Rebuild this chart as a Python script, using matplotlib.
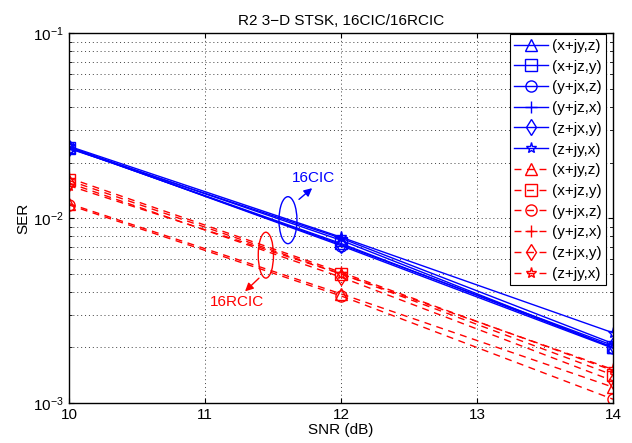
import numpy as np
import matplotlib
matplotlib.use("Agg")
import matplotlib.pyplot as plt
from matplotlib.patches import Ellipse

plt.rcParams['font.family'] = ['Liberation Sans', 'DejaVu Sans']
plt.rcParams['mathtext.fontset'] = 'custom'
plt.rcParams['mathtext.rm'] = 'Liberation Sans'

snr = [10, 12, 14]
labels = ["(x+jy,z)", "(x+jz,y)", "(y+jx,z)", "(y+jz,x)", "(z+jx,y)", "(z+jy,x)"]
markers = ["^", "s", "o", "+", "d", "*"]

# 16CIC
ser_cic = [
    [0.0242, 0.0076, 0.00200],
    [0.0240, 0.0073, 0.00200],
    [0.0243, 0.0071, 0.00198],
    [0.0238, 0.0078, 0.00210],
    [0.0241, 0.0072, 0.00205],
    [0.0245, 0.0079, 0.00240],
]
# 16RCIC
ser_rcic = [
    [0.0120, 0.0039, 0.00122],
    [0.0160, 0.0050, 0.00142],
    [0.0118, 0.0038, 0.00105],
    [0.0165, 0.0051, 0.00150],
    [0.0155, 0.0048, 0.00132],
    [0.0150, 0.0050, 0.00152],
]

fs = 11
fig = plt.figure(figsize=(6.32, 4.43), dpi=100)
ax = fig.add_axes([0.109, 0.09, 0.861, 0.835])

for lab, m, v in zip(labels, markers, ser_cic):
    ax.semilogy(snr, v, color='b', marker=m, lw=1.0, ms=8, mfc='none',
                mew=1.0, label=lab)
for lab, m, v in zip(labels, markers, ser_rcic):
    ax.semilogy(snr, v, color='r', marker=m, lw=1.0, ms=8, mfc='none',
                mew=1.0, ls=(0, (5, 4)), label=lab)

ax.set_xlim(10, 14)
ax.set_ylim(1e-3, 1e-1)
ax.set_xticks([10, 11, 12, 13, 14])
ax.grid(True, which='major', ls=(0, (1, 3)), color='0.25', lw=0.7)
ax.grid(True, which='minor', axis='y', ls=(0, (1, 3)), color='0.25', lw=0.7)
ax.tick_params(which='both', direction='in', top=True, right=True, labelsize=fs)
for s in ax.spines.values():
    s.set_linewidth(1.0)
ax.set_xlabel("SNR (dB)", fontsize=fs, labelpad=1)
ax.set_ylabel("SER", fontsize=fs, labelpad=2)
ax.set_title("R2 3\u2212D STSK, 16CIC/16RCIC", fontsize=fs, pad=6)

# annotations
ax.add_patch(Ellipse((0.4026, 0.4946), 0.033, 0.127, transform=ax.transAxes,
                     fill=False, ec='b', lw=1.0))
ax.annotate("", xy=(0.451, 0.586), xytext=(0.419, 0.546), xycoords='axes fraction',
            arrowprops=dict(arrowstyle='-|>', color='b', lw=1.0, mutation_scale=12))
ax.text(0.449, 0.609, "16CIC", color='b', fontsize=fs, ha='center', va='center',
        transform=ax.transAxes)

ax.add_patch(Ellipse((0.362, 0.40), 0.028, 0.124, transform=ax.transAxes,
                     fill=False, ec='r', lw=1.0))
ax.annotate("", xy=(0.320, 0.297), xytext=(0.353, 0.343), xycoords='axes fraction',
            arrowprops=dict(arrowstyle='-|>', color='r', lw=1.0, mutation_scale=12))
ax.text(0.309, 0.274, "16RCIC", color='r', fontsize=fs, ha='center', va='center',
        transform=ax.transAxes)

leg = ax.legend(loc='upper right', bbox_to_anchor=(0.987, 0.997), fontsize=fs,
                handlelength=2.2, handletextpad=0.25, labelspacing=0.44,
                borderpad=0.3, borderaxespad=0.0, fancybox=False,
                edgecolor='k', framealpha=1)
leg.get_frame().set_linewidth(0.8)

fig.savefig("out.png", dpi=100)
